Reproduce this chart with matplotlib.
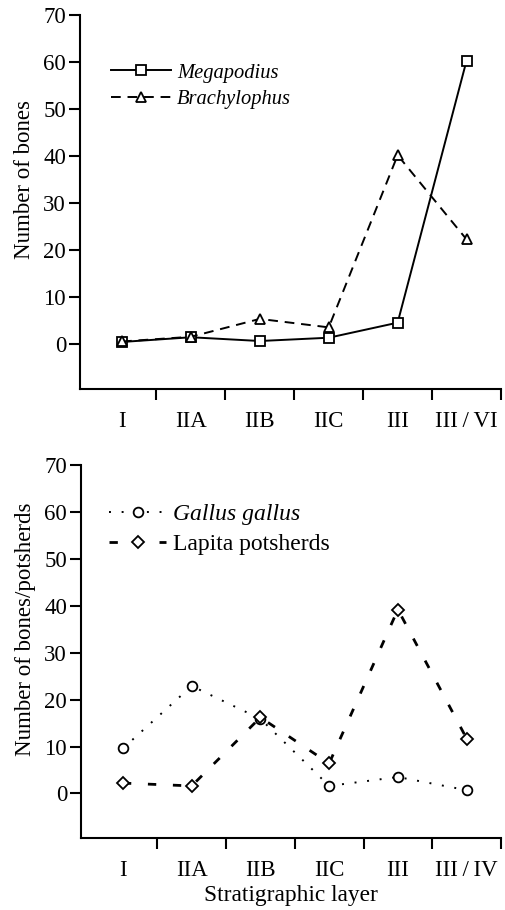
import matplotlib
matplotlib.use("Agg")
import matplotlib.pyplot as plt
import numpy as np

plt.rcParams['font.family'] = ['Liberation Serif', 'DejaVu Serif']

# Stratigraphic layers
layers_top = ["I", "IIA", "IIB", "IIC", "III", "III\u2009/\u2009VI"]
layers_bottom = ["I", "IIA", "IIB", "IIC", "III", "III\u2009/\u2009IV"]

# Bone counts per layer
megapodius = [0.5, 1.5, 0.7, 1.4, 4.6, 60.3]
brachylophus = [0.6, 1.6, 5.4, 3.6, 40.2, 22.3]
gallus_gallus = [9.6, 22.9, 15.9, 1.6, 3.5, 0.7]
lapita_potsherds = [2.2, 1.6, 16.2, 6.4, 39.2, 11.7]

yticks = [0, 10, 20, 30, 40, 50, 60, 70]

fig = plt.figure(figsize=(5.05, 9.10), dpi=100)
ax1 = fig.add_axes([80 / 505, 1 - 389 / 910, 421 / 505, 374 / 910])
ax2 = fig.add_axes([81 / 505, 1 - 838 / 910, 420 / 505, 373 / 910])

FS = 16.5


def style_axes(ax, labels, ylabel):
    x = np.arange(len(labels))
    ax.set_xlim(-0.61, len(labels) - 0.5)
    ax.set_ylim(-9.5, 70)
    for s in ("top", "right"):
        ax.spines[s].set_visible(False)
    for s in ("left", "bottom"):
        ax.spines[s].set_linewidth(1.5)
    ax.set_xticks(x)
    ax.set_xticklabels(labels, fontsize=FS)
    ax.set_xticks(np.arange(len(labels)) + 0.5, minor=True)
    ax.tick_params(axis="x", which="major", length=0, pad=16)
    ax.tick_params(axis="x", which="minor", length=8, width=1.5, direction="out")
    ax.set_yticks(yticks)
    ax.set_yticklabels([str(v) for v in yticks], fontsize=FS)
    ax.tick_params(axis="y", length=8, width=1.5, pad=2)
    ax.set_ylabel(ylabel, fontsize=FS)
    ax.yaxis.set_label_coords(-0.107, (35 + 9.5) / 79.5)
    return x


x1 = style_axes(ax1, layers_top, "Number of bones")
ax1.plot(x1, megapodius, color="black", lw=1.4, marker="s", ms=6.5,
         mfc="white", mec="black", mew=1.3, label="Megapodius")
ax1.plot(x1, brachylophus, color="black", lw=1.4, ls=(0, (5, 3.5)), marker="^",
         ms=7, mfc="white", mec="black", mew=1.3, label="Brachylophus")
leg1 = ax1.legend(loc="upper left", bbox_to_anchor=(0.055, 0.893), frameon=False,
                  fontsize=14.8, handlelength=2.9, handletextpad=0.3,
                  labelspacing=0.34, borderaxespad=0)
for t in leg1.get_texts():
    t.set_fontstyle("italic")

x2 = style_axes(ax2, layers_bottom, "Number of bones/potsherds")
ax2.plot(x2, gallus_gallus, color="black", lw=1.4, ls=(0, (1, 5.5)), marker="o",
         ms=7, mfc="white", mec="black", mew=1.3, label="Gallus gallus")
ax2.plot(x2, lapita_potsherds, color="black", lw=2.0, ls=(0, (3, 6)), marker="D",
         ms=6, mfc="white", mec="black", mew=1.3, label="Lapita potsherds")
leg2 = ax2.legend(loc="upper left", bbox_to_anchor=(0.045, 0.922), frameon=False,
                  fontsize=17, handlelength=2.4, handletextpad=0.3,
                  labelspacing=0.37, borderaxespad=0)
leg2.get_texts()[0].set_fontstyle("italic")
ax2.set_xlabel("Stratigraphic layer", fontsize=FS + 0.3, labelpad=3)

fig.savefig("out.png", dpi=100)
